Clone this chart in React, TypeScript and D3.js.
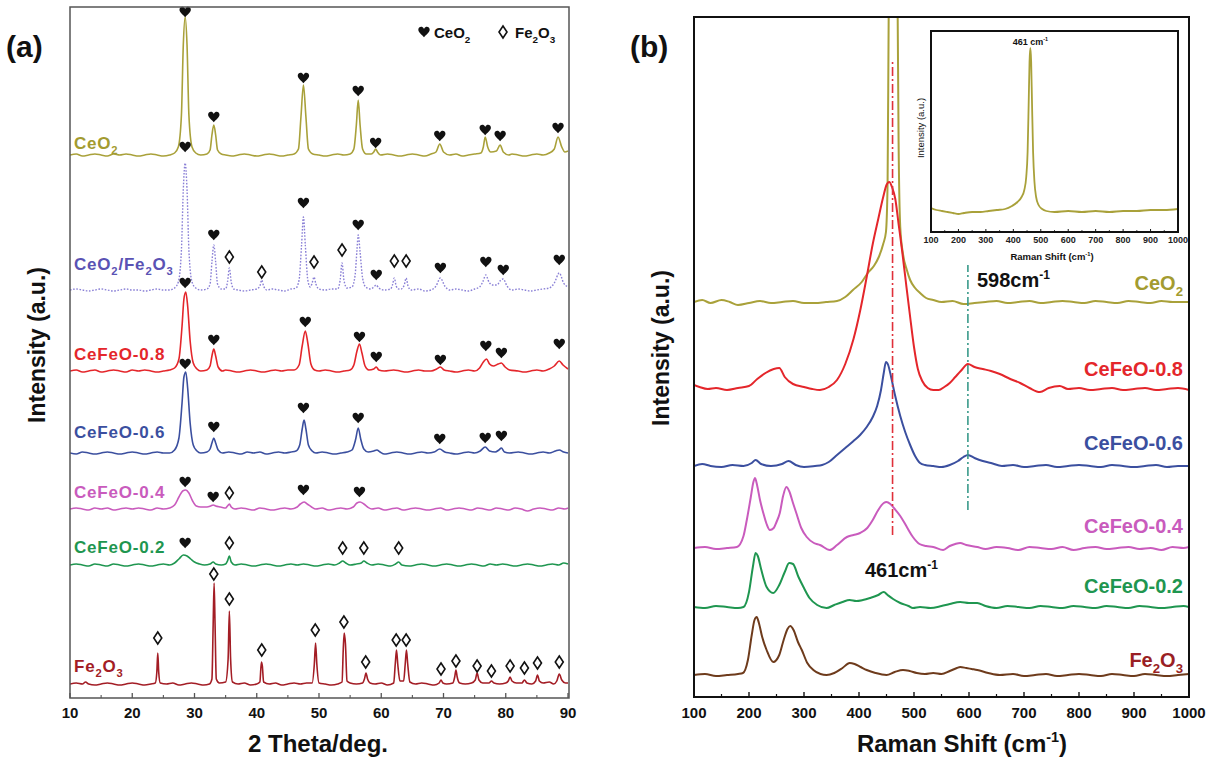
import React from "react";
import * as d3 from "d3";

// ---------------- DATA ----------------
// XRD (panel a): [2theta, intensity above own baseline (a.u.)]
const xrdCeO2: [number, number][] = [[10,0],[11,1],[12,-1],[13,0],[14,1],[15,0],[16,-1],[17,1],[18,0],[19,1],[20,0],[21,-1],[22,0],[23,1],[24,0],[25,-1],[26,0],[26.8,2],[27.4,8],[27.9,40],[28.2,110],[28.5,138],[28.8,110],[29.1,40],[29.6,8],[30.2,2],[31,0],[32,1],[32.5,5],[32.8,20],[33.1,30],[33.4,20],[33.7,5],[34.3,1],[35,0],[36,-1],[37,0],[38,1],[39,0],[40,-1],[41,0],[42,1],[43,0],[44,-1],[45,0],[46,1],[46.7,6],[47.1,38],[47.5,70],[47.9,38],[48.3,6],[49,1],[50,0],[51,-1],[52,0],[53,1],[54,0],[55,1],[55.6,6],[56,30],[56.3,55],[56.6,30],[57,6],[57.6,1],[58.4,1],[58.8,3],[59.1,6],[59.4,3],[59.9,0],[61,1],[62,0],[63,-1],[64,0],[65,1],[66,0],[67,-1],[68,1],[68.8,3],[69.4,11],[70,3],[71,0],[72,1],[73,-1],[74,0],[75,1],[76,2],[76.4,8],[76.7,18],[77.1,8],[77.6,3],[78.5,4],[79.1,10],[79.6,3],[80.5,0],[81,1],[82,0],[83,-1],[84,0],[85,1],[86,0],[87,2],[87.8,6],[88.4,18],[89,8],[89.5,3],[90,4]];
const xrdMix: [number, number][] = [[10,0],[11,1],[12,0],[13,-1],[14,0],[15,1],[16,0],[17,-1],[18,0],[19,1],[20,0],[21,0],[22,-1],[23,0],[24,1],[25,0],[26,0],[26.8,2],[27.4,8],[27.9,40],[28.2,100],[28.5,127],[28.8,100],[29.1,40],[29.6,8],[30.2,2],[31,0],[32,1],[32.5,6],[32.8,28],[33.1,45],[33.4,28],[33.7,6],[34.3,1],[35,1],[35.3,8],[35.6,22],[35.9,8],[36.3,1],[37,0],[38,-1],[39,0],[40,1],[40.5,4],[40.8,10],[41.1,4],[41.6,0],[42.5,1],[43.5,0],[44.5,-1],[45.5,1],[46.3,2],[46.8,10],[47.2,45],[47.5,73],[47.8,45],[48.2,10],[48.6,3],[48.9,7],[49.2,13],[49.5,6],[50,1],[51,0],[52,1],[53,1],[53.4,10],[53.7,27],[54,10],[54.5,2],[55.3,3],[55.8,15],[56.1,40],[56.3,55],[56.6,38],[57,12],[57.5,3],[58.3,1],[58.8,3],[59.2,5],[59.6,2],[60.5,0],[61.5,1],[61.8,5],[62.1,12],[62.4,4],[62.8,1],[63.2,1],[63.7,5],[64,12],[64.3,4],[64.8,0],[66,1],[67,-1],[68,0],[68.8,4],[69.5,12],[70.2,4],[71,0],[72,1],[73,0],[74,-1],[75,1],[75.8,3],[76.3,8],[76.8,15],[77.3,8],[77.8,5],[78.6,5],[79.2,10],[79.6,11],[80.2,4],[81,0],[82,1],[83,0],[84,-1],[85,0],[86,1],[87,2],[87.8,7],[88.6,17],[89.3,7],[90,3]];
const xrd08: [number, number][] = [[10,0],[11,1],[12,-1],[13,0],[14,1],[15,-1],[16,0],[17,1],[18,0],[19,-1],[20,1],[21,0],[22,1],[23,0],[24,-1],[25,0],[26,1],[26.8,3],[27.5,12],[28,45],[28.3,72],[28.6,79],[28.9,65],[29.3,30],[29.8,8],[30.4,2],[31,0],[32,1],[32.5,5],[32.8,15],[33.1,22],[33.4,15],[33.8,4],[34.5,0],[35,1],[36,0],[37,-1],[38,0],[39,1],[40,0],[41,-1],[42,0],[43,1],[44,0],[45,1],[46,1],[46.8,6],[47.3,25],[47.8,40],[48.2,28],[48.7,7],[49.3,1],[50,0],[51,1],[52,0],[53,-1],[54,0],[55,1],[55.6,6],[56.1,20],[56.5,27],[56.9,18],[57.4,5],[58,1],[58.8,2],[59.2,4],[59.6,1],[60.5,0],[62,1],[63,0],[64,-1],[65,0],[66,1],[67,0],[68,0],[68.9,2],[69.5,4],[70.1,1],[71,0],[72,-1],[73,0],[74,1],[75,0],[75.8,3],[76.4,9],[76.9,12],[77.4,7],[78,5],[78.8,7],[79.3,8],[79.9,4],[80.6,1],[82,0],[83,-1],[84,0],[85,1],[86,0],[87,2],[87.8,5],[88.6,10],[89.2,6],[90,2]];
const xrd06: [number, number][] = [[10,0],[11,-1],[12,1],[13,0],[14,-1],[15,0],[16,1],[17,0],[18,-1],[19,0],[20,1],[21,0],[22,-1],[23,0],[24,1],[25,0],[26,0],[26.8,3],[27.5,15],[28,50],[28.3,76],[28.6,81],[28.9,65],[29.3,30],[29.8,8],[30.4,2],[31,0],[32,1],[32.5,4],[32.8,10],[33.1,15],[33.4,10],[33.8,3],[34.5,0],[35.5,1],[36.5,0],[37.5,-1],[38.5,1],[39.5,0],[40.5,1],[41.5,-1],[42.5,0],[43.5,1],[44.5,0],[45.5,1],[46.3,2],[46.9,8],[47.3,24],[47.6,33],[47.9,24],[48.3,8],[48.9,2],[49.5,0],[50.5,1],[51.5,0],[52.5,-1],[53.5,0],[54.5,1],[55.3,3],[55.9,14],[56.3,25],[56.7,14],[57.2,4],[57.9,1],[58.8,2],[59.3,3],[59.8,1],[60.5,-1],[61.5,0],[62.5,1],[63.5,0],[64.5,-1],[65.5,0],[66.5,1],[67.5,0],[68.5,1],[69.4,4],[70.2,1],[71,0],[72,-1],[73,0],[74,1],[75,0],[75.9,2],[76.7,6],[77.4,2],[78.3,1],[78.9,3],[79.3,5],[79.8,1],[80.6,0],[82,1],[83,0],[84,-1],[85,0],[86,1],[87,0],[88,2],[88.6,3],[89.3,1],[90,0]];
const xrd04: [number, number][] = [[10,0],[11,1],[12,0],[13,-1],[14,1],[15,0],[16,1],[17,-1],[18,0],[19,1],[20,0],[21,1],[22,0],[23,-1],[24,1],[25,0],[26,1],[26.8,4],[27.5,12],[28.1,18],[28.6,19],[29.1,16],[29.7,8],[30.3,3],[31,2],[32,2],[32.6,3],[33,4],[33.4,3],[34.2,2],[35,1],[35.3,3],[35.6,5],[35.9,2],[36.5,0],[37.5,1],[38.5,0],[39.5,-1],[40.5,1],[41.5,0],[42.5,-1],[43.5,0],[44.5,1],[45.5,0],[46.5,2],[47,5],[47.6,7],[48.1,5],[48.8,2],[49.5,0],[50.5,1],[51.5,-1],[52.5,0],[53.5,1],[54.5,0],[55.5,2],[56.1,6],[56.6,7],[57.2,5],[57.8,2],[58.5,0],[59.5,1],[60.5,-1],[61.5,0],[62.5,1],[63.5,-1],[64.5,0],[65.5,1],[66.5,0],[67.5,-1],[68.5,0],[69.5,1],[70.5,-1],[71.5,0],[72.5,1],[73.5,0],[74.5,-1],[75.5,1],[76.5,0],[77.5,-1],[78.5,1],[79.5,0],[80.5,-1],[81.5,1],[82.5,0],[83.5,-2],[84.5,0],[85.5,1],[86.5,0],[87.5,-1],[88.5,1],[89.5,0],[90,1]];
const xrd02: [number, number][] = [[10,0],[11,1],[12,0],[13,-1],[14,1],[15,0],[16,-1],[17,1],[18,0],[19,-1],[20,0],[21,1],[22,0],[23,-1],[24,0],[25,1],[26,0],[26.8,2],[27.5,6],[28.2,10],[28.8,9],[29.4,6],[30,3],[30.8,1],[31.6,0],[32.5,1],[33,3],[33.4,1],[34.3,0],[35,1],[35.3,4],[35.6,9],[35.9,3],[36.5,0],[37.5,1],[38.5,0],[39.5,-1],[40.5,0],[41.5,1],[42.5,0],[43.5,-1],[44.5,0],[45.5,1],[46.5,0],[47.5,1],[48.5,0],[49.5,-1],[50.5,0],[51.5,1],[52.5,0],[53.3,2],[53.8,4],[54.3,2],[55,0],[56,1],[56.8,2],[57.2,4],[57.7,2],[58.5,0],[59.5,1],[60.5,0],[61.5,-1],[62.3,1],[62.8,3],[63.3,0],[64.5,-1],[65.5,0],[66.5,1],[67.5,0],[68.5,-1],[69.5,0],[70.5,1],[71.5,0],[72.5,-1],[73.5,0],[74.5,1],[75.5,0],[76.5,-1],[77.5,1],[78.5,0],[79.5,1],[80.5,0],[81.5,-1],[82.5,0],[83.5,1],[84.5,0],[85.5,-1],[86.5,0],[87.5,1],[88.5,0],[89.3,2],[90,1]];
const xrdFe2O3: [number, number][] = [[10,0],[11,1],[12,0],[12.5,2],[13,0],[14,-1],[15,0],[16,1],[17,0],[18,-1],[19,0],[20,1],[21,0],[22,-1],[23,0],[23.7,1],[23.95,12],[24.1,31],[24.25,12],[24.5,1],[25.5,0],[26.5,1],[27.5,-1],[28.5,0],[29.5,1],[30.5,0],[31.5,-1],[32.4,0],[32.8,5],[33,60],[33.15,101],[33.3,60],[33.5,5],[34,1],[35,2],[35.4,25],[35.6,73],[35.8,25],[36.1,2],[37,0],[38,1],[39,-1],[40,0],[40.5,2],[40.75,22],[40.9,18],[41.1,2],[42,0],[43,1],[44,-1],[45,0],[46,1],[47,0],[48,1],[48.9,1],[49.25,20],[49.45,41],[49.65,20],[50,1],[51,0],[52,-1],[53,0],[53.7,2],[53.9,35],[54.05,51],[54.25,40],[54.5,3],[55,1],[56,0],[57,1],[57.3,5],[57.55,11],[57.8,5],[58.2,1],[59,0],[60,1],[61,-1],[62,1],[62.25,20],[62.45,34],[62.65,20],[63,3],[63.6,3],[63.85,20],[64.05,34],[64.25,20],[64.6,2],[65.5,0],[66.5,1],[67.5,0],[68.5,-1],[69.3,1],[69.6,4],[69.9,1],[70.5,0],[71.5,1],[71.8,7],[72,14],[72.2,7],[72.6,1],[73.5,0],[74.5,1],[75.1,4],[75.4,11],[75.7,4],[76.3,1],[77.3,1],[77.7,3],[78.1,1],[79,0],[80,1],[80.4,3],[80.7,7],[81,3],[81.7,1],[82.6,1],[83,4],[83.4,1],[84.2,0],[84.8,3],[85.1,9],[85.4,3],[86,1],[87,2],[87.7,0],[88.2,3],[88.6,10],[89,4],[89.6,1],[90,1]];

// stacking offsets of the XRD traces (a.u.)
const xrdOffsets = [543, 408, 327, 245, 189, 133, 14];

// phase markers: [2theta, level above own baseline, kind] h = CeO2 (heart), d = Fe2O3 (diamond)
const mkCeO2: [number, number, string][] = [[28.5,143,"h"],[33.1,38,"h"],[47.5,77,"h"],[56.3,64,"h"],[59.1,12,"h"],[69.4,19,"h"],[76.7,25,"h"],[79.1,19,"h"],[88.4,27,"h"]];
const mkMix: [number, number, string][] = [[28.5,143,"h"],[33.1,55,"h"],[35.6,33,"d"],[40.8,18,"d"],[47.5,87,"h"],[49.2,28,"d"],[53.7,40,"d"],[56.3,65,"h"],[59.2,15,"h"],[62.1,29,"d"],[64.0,29,"d"],[69.5,22,"h"],[76.8,28,"h"],[79.6,20,"h"],[88.6,30,"h"]];
const mk08: [number, number, string][] = [[28.5,88,"h"],[33.1,31,"h"],[47.8,49,"h"],[56.5,34,"h"],[59.2,14,"h"],[69.5,11,"h"],[76.8,25,"h"],[79.3,18,"h"],[88.6,27,"h"]];
const mk06: [number, number, string][] = [[28.5,89,"h"],[33.1,26,"h"],[47.5,45,"h"],[56.3,35,"h"],[69.4,14,"h"],[76.7,15,"h"],[79.3,17,"h"]];
const mk04: [number, number, string][] = [[28.5,27,"h"],[33.0,12,"h"],[35.6,16,"d"],[47.5,19,"h"],[56.5,17,"h"]];
const mk02: [number, number, string][] = [[28.5,22,"h"],[35.6,22,"d"],[53.8,17,"d"],[57.2,17,"d"],[62.8,17,"d"]];
const mkFe2O3: [number, number, string][] = [[24.1,46,"d"],[33.1,110,"d"],[35.6,85,"d"],[40.8,34,"d"],[49.4,54,"d"],[54.0,62,"d"],[57.5,22,"d"],[62.4,44,"d"],[64.0,44,"d"],[69.6,15,"d"],[72.0,23,"d"],[75.4,18,"d"],[77.7,13,"d"],[80.7,18,"d"],[83.0,16,"d"],[85.1,21,"d"],[88.6,22,"d"]];

const xrdNames = ["CeO_2", "CeO_2/Fe_2O_3", "CeFeO-0.8", "CeFeO-0.6", "CeFeO-0.4", "CeFeO-0.2", "Fe_2O_3"];
const xrdTicks = [10, 20, 30, 40, 50, 60, 70, 80, 90];

// Raman (panel b): [Raman shift cm-1, intensity above own baseline (a.u.)]
const ramCeO2: [number, number][] = [[100,0],[115,2],[130,-1],[150,2],[165,0],[180,-3],[200,-1],[220,1],[240,-1],[260,0],[280,1],[300,-1],[320,-1],[340,0],[360,1],[375,5],[389,12],[405,20],[416,29],[427,36],[436,45],[444,58],[449,70],[452,120],[454,290],[457,420],[461,470],[466,420],[470,310],[472,160],[475,75],[480,48],[487,32],[493,22],[502,14],[511,9],[522,4],[535,2],[550,0],[570,1],[590,-2],[610,-1],[630,0],[650,1],[670,-1],[690,0],[710,1],[730,-1],[750,0],[770,1],[790,0],[810,-1],[830,1],[850,0],[870,-1],[890,1],[910,0],[930,-1],[950,1],[970,0],[1000,0]];
const ram08: [number, number][] = [[100,4],[110,2],[125,0],[140,1],[160,-1],[180,1],[200,3],[215,10],[230,16],[245,20],[255,21],[265,12],[280,5],[300,2],[315,0],[329,-1],[345,2],[360,9],[375,25],[390,50],[402,78],[414,112],[425,145],[435,170],[444,192],[450,204],[455,207],[460,202],[466,190],[472,165],[478,140],[485,108],[493,72],[500,42],[507,20],[515,8],[525,1],[535,-1],[545,-1],[555,2],[565,6],[575,12],[585,18],[598,25],[610,22],[625,20],[640,18],[656,15],[675,10],[693,6],[710,1],[729,-3],[745,1],[765,3],[780,0],[800,1],[820,-1],[840,0],[860,1],[880,-1],[900,0],[920,1],[940,-1],[960,0],[980,1],[1000,-1]];
const ram06: [number, number][] = [[100,0],[115,2],[130,0],[150,-1],[170,1],[190,0],[205,3],[212,6],[222,2],[240,0],[260,2],[272,5],[285,1],[300,-1],[320,0],[333,1],[345,4],[360,11],[375,18],[390,25],[402,31],[414,39],[425,49],[433,60],[440,76],[445,93],[449,104],[453,101],[458,90],[465,72],[475,50],[484,34],[493,21],[502,10],[511,3],[520,1],[535,0],[550,-1],[565,1],[580,5],[590,9],[598,11],[610,8],[625,5],[640,3],[660,0],[680,1],[700,-1],[720,0],[740,1],[760,-1],[780,0],[800,1],[820,0],[840,-1],[860,1],[880,0],[900,-1],[920,0],[940,1],[960,-1],[980,0],[1000,0]];
const ram04: [number, number][] = [[100,0],[120,1],[140,-1],[160,0],[178,1],[190,12],[196,28],[203,50],[208,66],[211,70],[215,62],[220,48],[226,35],[232,24],[238,18],[245,20],[250,26],[256,35],[262,52],[268,61],[273,57],[280,45],[286,35],[295,20],[305,11],[318,5],[329,3],[347,-2],[360,3],[378,11],[390,13],[402,15],[415,20],[425,28],[435,38],[445,45],[450,46],[457,44],[465,39],[475,32],[487,21],[498,11],[510,4],[522,2],[535,1],[553,-2],[565,2],[575,4],[584,5],[595,3],[615,1],[630,-1],[650,1],[670,0],[690,-2],[710,1],[730,0],[750,-1],[770,1],[790,-2],[810,0],[830,1],[850,-1],[870,0],[890,1],[910,-1],[930,0],[950,-2],[970,1],[990,0],[1000,1]];
const ram02: [number, number][] = [[100,0],[120,-1],[140,1],[160,0],[180,-1],[190,0],[200,15],[207,40],[212,54],[216,51],[222,38],[232,20],[244,14],[255,22],[265,35],[273,44],[280,43],[290,30],[299,20],[310,9],[324,2],[341,-1],[355,2],[370,5],[383,7],[395,6],[407,7],[420,9],[435,12],[445,15],[452,12],[462,8],[475,4],[490,1],[498,-1],[511,0],[530,-1],[550,1],[565,3],[584,5],[600,4],[615,4],[630,1],[650,-1],[670,1],[690,0],[710,-1],[730,1],[750,0],[770,-1],[790,1],[810,0],[830,-1],[850,1],[870,0],[890,-1],[910,1],[930,0],[950,-1],[970,0],[990,1],[1000,0]];
const ramFe2O3: [number, number][] = [[100,0],[120,1],[140,-1],[160,0],[180,1],[189,2],[198,15],[205,40],[210,55],[214,58],[218,52],[224,38],[232,25],[244,13],[255,20],[263,35],[270,46],[275,49],[281,45],[289,33],[296,25],[306,12],[317,5],[330,1],[341,0],[355,2],[370,7],[383,12],[392,11],[403,8],[414,5],[430,2],[450,0],[465,3],[480,5],[492,4],[505,2],[520,1],[535,2],[550,1],[565,4],[578,7],[584,8],[595,7],[605,6],[615,5],[635,2],[656,0],[680,1],[700,-1],[720,0],[740,1],[760,-1],[780,0],[800,1],[820,0],[840,-1],[860,1],[880,0],[900,-1],[920,1],[940,0],[960,-1],[980,0],[1000,1]];
const ramOffsets = [395, 308, 231, 149, 90, 22];
const ramNames = ["CeO_2", "CeFeO-0.8", "CeFeO-0.6", "CeFeO-0.4", "CeFeO-0.2", "Fe_2O_3"];
const ramTicks = [100, 200, 300, 400, 500, 600, 700, 800, 900, 1000];

// reference lines: [shift, from, to] (a.u.)
const refLines: [number, number, number][] = [[461, 162, 637], [598, 187, 432]];

// inset CeO2 Raman spectrum
const insetCeO2: [number, number][] = [[100,4],[120,2],[140,1],[160,0],[180,-1],[200,-2],[220,-1],[250,0],[280,0],[310,1],[340,2],[370,3],[395,6],[415,10],[430,15],[440,22],[447,35],[452,60],[456,110],[459,150],[462,164],[465,150],[468,110],[472,60],[477,30],[483,15],[492,7],[505,3],[520,1],[550,0],[600,1],[650,0],[700,1],[750,0],[800,1],[850,1],[900,2],[950,2],[1000,3]];

// ---------------- STYLE / LAYOUT ----------------
const FONT = "Arial, 'Liberation Sans', Helvetica, sans-serif";
const A = { l: 70, r: 569, t: 7, b: 698 };
const B = { l: 694, r: 1189, t: 17, b: 697 };
const I = { l: 931, r: 1178, t: 31, b: 232 };

const xrdColors = ["#a9a13a", "#8a80d6", "#e4262b", "#3b4f9f", "#c95bbd", "#1f9650", "#a31d25"];
const xrdLabelColors = ["#a39b30", "#5a52b4", "#e4262b", "#3b4f9f", "#c95bbd", "#1f9650", "#a31d25"];
const xrdLabelY = [149, 270, 360, 438, 498, 553, 672];
const ramColors = ["#a9a13a", "#e4262b", "#3b4f9f", "#c95bbd", "#1f9650", "#6e3b1c"];
const ramLabelColors = ["#a39b30", "#e4262b", "#3b4f9f", "#c95bbd", "#1f9650", "#9a1f24"];
const ramLabelY = [290, 376, 450, 533, 593, 667];
const refColors = ["#e0303a", "#3a9a8a"];

const HEART = "M0,5.5 C-1.6,3.4 -6,0.6 -6,-2.3 C-6,-4.9 -3.4,-6.3 -1.4,-5 C-0.7,-4.5 -0.2,-3.8 0,-3.2 C0.2,-3.8 0.7,-4.5 1.4,-5 C3.4,-6.3 6,-4.9 6,-2.3 C6,0.6 1.6,3.4 0,5.5 Z";
const DIAMOND = "M0,-6 L4,0 L0,6 L-4,0 Z";

function Marker({ x, y, kind }: { x: number; y: number; kind: string }) {
  if (kind === "h") return <path d={HEART} transform={`translate(${x},${y}) scale(0.95)`} fill="#111" />;
  return <path d={DIAMOND} transform={`translate(${x},${y})`} fill="#fff" stroke="#111" strokeWidth={1.6} />;
}

function rich(s: string, fs: number) {
  const tokens = s.split(/(_[0-9]|\^-1)/).filter((t) => t.length > 0);
  let pending = 0;
  return tokens.map((t, i) => {
    if (t[0] === "_") {
      const el = <tspan key={i} dy={pending + fs * 0.3} fontSize={fs * 0.66}>{t.slice(1)}</tspan>;
      pending = -fs * 0.3;
      return el;
    }
    if (t[0] === "^") {
      const el = <tspan key={i} dy={pending - fs * 0.42} fontSize={fs * 0.6}>-1</tspan>;
      pending = fs * 0.42;
      return el;
    }
    const el = <tspan key={i} dy={pending}>{t}</tspan>;
    pending = 0;
    return el;
  });
}

export default function App() {
  const xA = d3.scaleLinear().domain([10, 90]).range([A.l, A.r - 1]);
  const yA = d3.scaleLinear().domain([0, A.b - A.t]).range([A.b, A.t]);
  const xB = d3.scaleLinear().domain([100, 1000]).range([B.l, B.r]);
  const yB = d3.scaleLinear().domain([0, B.b - B.t]).range([B.b, B.t]);
  const xI = d3.scaleLinear().domain([100, 1000]).range([I.l, I.r]);
  const yI = d3.scaleLinear().domain([-20, 181]).range([I.b, I.t]);

  const xrdData = [xrdCeO2, xrdMix, xrd08, xrd06, xrd04, xrd02, xrdFe2O3];
  const xrdMarks = [mkCeO2, mkMix, mk08, mk06, mk04, mk02, mkFe2O3];
  const ramData = [ramCeO2, ram08, ram06, ram04, ram02, ramFe2O3];

  const lineA = (off: number) =>
    d3.line<[number, number]>().x((d) => xA(d[0])).y((d) => yA(d[1] + off)).curve(d3.curveMonotoneX);
  const lineB = (off: number) =>
    d3.line<[number, number]>().x((d) => xB(d[0])).y((d) => yB(d[1] + off)).curve(d3.curveMonotoneX);
  const lineI = d3.line<[number, number]>().x((d) => xI(d[0])).y((d) => yI(d[1])).curve(d3.curveMonotoneX);

  const minorA = xrdTicks.slice(0, -1).map((t) => t + 5);
  const minorB = ramTicks.slice(0, -1).map((t) => t + 50);

  return (
    <svg width={1211} height={760} style={{ position: "absolute", left: 0, top: 0, background: "#fff" }} fontFamily={FONT}>
      <defs>
        <clipPath id="clipA"><rect x={A.l} y={A.t} width={A.r - A.l} height={A.b - A.t} /></clipPath>
        <clipPath id="clipB"><rect x={B.l} y={B.t} width={B.r - B.l} height={B.b - B.t} /></clipPath>
        <clipPath id="clipI"><rect x={I.l} y={I.t} width={I.r - I.l} height={I.b - I.t} /></clipPath>
      </defs>
      <rect x={0} y={0} width={1211} height={760} fill="#fff" />

      {/* ---------- Panel (a) ---------- */}
      <g clipPath="url(#clipA)">
        {xrdData.map((d, i) => (
          <path key={i} d={lineA(xrdOffsets[i])(d) || ""} fill="none" stroke={xrdColors[i]}
            strokeWidth={i === 1 ? 1.4 : 1.6} strokeDasharray={i === 1 ? "1.6 1.6" : undefined} strokeLinejoin="round" />
        ))}
      </g>
      {xrdMarks.map((ms, i) =>
        ms.map((m, j) => <Marker key={i + "-" + j} x={xA(m[0])} y={yA(m[1] + xrdOffsets[i])} kind={m[2]} />)
      )}
      <rect x={A.l} y={A.t} width={A.r - A.l} height={A.b - A.t} fill="none" stroke="#555" strokeWidth={1.5} />
      {xrdTicks.map((t) => (
        <g key={t}>
          <line x1={xA(t)} x2={xA(t)} y1={A.b} y2={A.b - 5} stroke="#555" strokeWidth={1.3} />
          <text x={xA(t)} y={718} textAnchor="middle" fontSize={15} fontWeight="bold" fill="#111">{t}</text>
        </g>
      ))}
      {minorA.map((t) => (
        <line key={t} x1={xA(t)} x2={xA(t)} y1={A.b} y2={A.b - 3} stroke="#555" strokeWidth={1.1} />
      ))}
      {xrdNames.map((n, i) => (
        <text key={n} x={74} y={xrdLabelY[i]} fontSize={17} fontWeight="bold" letterSpacing={0.8} fill={xrdLabelColors[i]}>
          {rich(n, 17)}
        </text>
      ))}
      {/* legend */}
      <Marker x={424} y={32} kind="h" />
      <text x={434} y={38} fontSize={15} fontWeight="bold" fill="#111">{rich("CeO_2", 15)}</text>
      <Marker x={503} y={32} kind="d" />
      <text x={515} y={38} fontSize={15} fontWeight="bold" fill="#111">{rich("Fe_2O_3", 15)}</text>

      <text x={6} y={57} fontSize={30} fontWeight="bold" fill="#111">(a)</text>
      <text transform="translate(45,345) rotate(-90)" textAnchor="middle" fontSize={23} fontWeight="bold" fill="#111">Intensity (a.u.)</text>
      <text x={318} y={752} textAnchor="middle" fontSize={24} fontWeight="bold" fill="#111">2 Theta/deg.</text>

      {/* ---------- Panel (b) ---------- */}
      <g clipPath="url(#clipB)">
        {ramData.map((d, i) => (
          <path key={i} d={lineB(ramOffsets[i])(d) || ""} fill="none" stroke={ramColors[i]} strokeWidth={2} strokeLinejoin="round" />
        ))}
        {refLines.map((r, i) => (
          <line key={i} x1={xB(r[0])} x2={xB(r[0])} y1={yB(r[1])} y2={yB(r[2])} stroke={refColors[i]}
            strokeWidth={1.6} strokeDasharray="9 3 2 3" />
        ))}
      </g>
      <rect x={B.l} y={B.t} width={B.r - B.l} height={B.b - B.t} fill="none" stroke="#111" strokeWidth={2} />
      {ramTicks.map((t) => (
        <g key={t}>
          <line x1={xB(t)} x2={xB(t)} y1={B.b} y2={B.b - 5} stroke="#111" strokeWidth={1.4} />
          <text x={xB(t)} y={718} textAnchor="middle" fontSize={15} fontWeight="bold" fill="#111">{t}</text>
        </g>
      ))}
      {minorB.map((t) => (
        <line key={t} x1={xB(t)} x2={xB(t)} y1={B.b} y2={B.b - 3} stroke="#111" strokeWidth={1.2} />
      ))}
      {ramNames.map((n, i) => (
        <text key={n} x={1183} y={ramLabelY[i]} textAnchor="end" fontSize={20} fontWeight="bold" fill={ramLabelColors[i]}>
          {rich(n, 20)}
        </text>
      ))}
      <text x={977} y={287} fontSize={20} fontWeight="bold" fill="#111">{rich("598cm^-1", 20)}</text>
      <text x={865} y={577} fontSize={20} fontWeight="bold" fill="#111">{rich("461cm^-1", 20)}</text>

      <text x={630} y={57} fontSize={30} fontWeight="bold" fill="#111">(b)</text>
      <text transform="translate(669,348) rotate(-90)" textAnchor="middle" fontSize={23} fontWeight="bold" fill="#111">Intensity (a.u.)</text>
      <text x={962} y={752} textAnchor="middle" fontSize={24} fontWeight="bold" fill="#111">{rich("Raman Shift (cm^-1)", 24)}</text>

      {/* ---------- Inset ---------- */}
      <rect x={I.l} y={I.t} width={I.r - I.l} height={I.b - I.t} fill="#fff" stroke="none" />
      <g clipPath="url(#clipI)">
        <path d={lineI(insetCeO2) || ""} fill="none" stroke={ramColors[0]} strokeWidth={1.8} />
      </g>
      <rect x={I.l} y={I.t} width={I.r - I.l} height={I.b - I.t} fill="none" stroke="#111" strokeWidth={2} />
      {ramTicks.map((t) => (
        <g key={t}>
          <line x1={xI(t)} x2={xI(t)} y1={I.b} y2={I.b - 3} stroke="#111" strokeWidth={1} />
          <text x={xI(t)} y={243} textAnchor="middle" fontSize={9} fontWeight="bold" fill="#222">{t}</text>
        </g>
      ))}
      {minorB.map((t) => (
        <line key={t} x1={xI(t)} x2={xI(t)} y1={I.b} y2={I.b - 2} stroke="#111" strokeWidth={0.8} />
      ))}
      <text x={xI(462)} y={45} textAnchor="middle" fontSize={9} fontWeight="bold" fill="#111">{rich("461 cm^-1", 9)}</text>
      <text x={1052} y={260} textAnchor="middle" fontSize={9.5} fontWeight="bold" fill="#111">{rich("Raman Shift (cm^-1)", 9.5)}</text>
      <text transform="translate(924,128) rotate(-90)" textAnchor="middle" fontSize={9.5} fill="#111">Intensity (a.u.)</text>
    </svg>
  );
}
